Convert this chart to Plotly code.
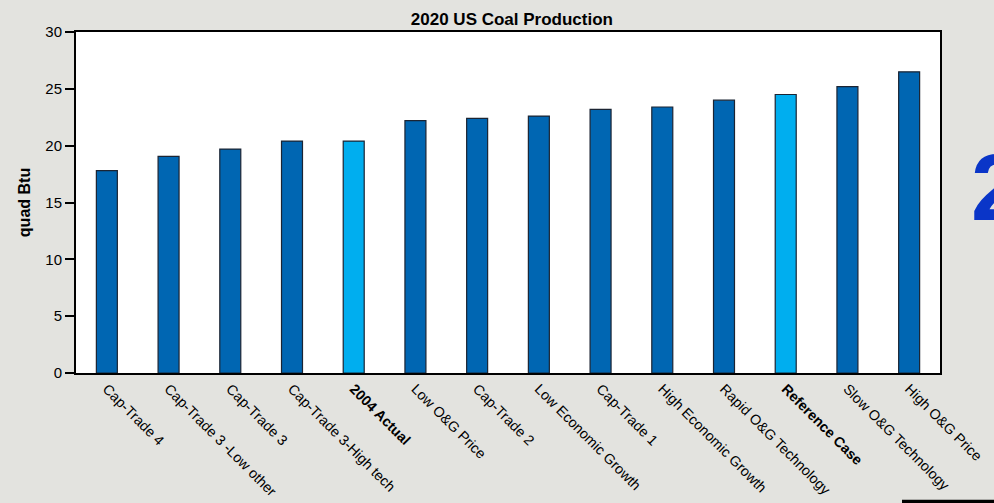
import plotly.graph_objects as go

categories = ["Cap-Trade 4", "Cap-Trade 3 -Low other", "Cap-Trade 3", "Cap-Trade 3-High tech",
              "<b>2004 Actual</b>", "Low O&G Price", "Cap-Trade 2", "Low Economic Growth",
              "Cap-Trade 1", "High Economic Growth", "Rapid O&G Technology", "<b>Reference Case</b>",
              "Slow O&G Technology", "High O&G Price"]
values = [17.8, 19.05, 19.7, 20.4, 20.4, 22.2, 22.4, 22.6, 23.2, 23.4, 24.0, 24.5, 25.2, 26.5]
highlight = [False, False, False, False, True, False, False, False, False, False, False, True, False, False]

DARK = "#0066B2"
LIGHT = "#00AEEF"
colors = [LIGHT if h else DARK for h in highlight]

fig = go.Figure()
fig.add_trace(go.Bar(
    x=list(range(len(categories))), y=values,
    marker=dict(color=colors, line=dict(color="#1b2433", width=1.2)),
    width=0.34,
))

BG = "#e3e3df"
fig.update_layout(
    width=994, height=503,
    margin=dict(l=76, r=54, t=32, b=130),
    paper_bgcolor=BG, plot_bgcolor="white",
    showlegend=False,
    font=dict(family="Arial, Liberation Sans, sans-serif", color="black"),
    title=dict(text="<b>2020 US Coal Production</b>", x=0.515, xanchor="center",
               y=0.962, yanchor="middle", font=dict(size=17, color="black")),
    xaxis=dict(
        tickmode="array", tickvals=list(range(len(categories))), ticktext=categories,
        range=[-0.5, len(categories) - 0.5], tickangle=45, automargin=False,
        tickfont=dict(size=14.3, color="black"),
        showline=True, linecolor="black", linewidth=2, mirror=True,
        ticks="", showgrid=False, zeroline=False,
    ),
    yaxis=dict(
        range=[0, 30], tickvals=[0, 5, 10, 15, 20, 25, 30], automargin=False,
        tickfont=dict(size=15, color="black"),
        ticks="outside", ticklen=9, tickwidth=2, tickcolor="black",
        showline=True, linecolor="black", linewidth=2, mirror=True,
        showgrid=False, zeroline=False,
        title=dict(text="<b>quad Btu</b>", font=dict(size=16, color="black"), standoff=11),
    ),
    annotations=[
        dict(text="<b>2</b>", xref="paper", yref="paper", x=1.034, y=0.545,
             xanchor="left", yanchor="middle", showarrow=False,
             font=dict(size=94, color="#0a35c8", family="Arial, Liberation Sans, sans-serif")),
    ],
    shapes=[
        dict(type="rect", xref="paper", yref="paper", x0=(903 - 76) / 864, x1=1.08,
             y0=(373.3 - 503) / 341, y1=(373.3 - 501) / 341,
             line=dict(color="black", width=2), fillcolor="white"),
    ],
)

fig.write_html("out.html")
